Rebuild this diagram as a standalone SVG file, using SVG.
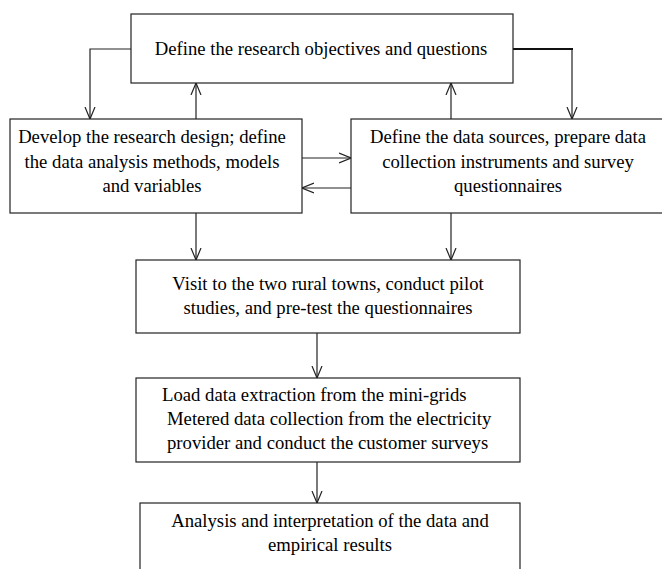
<svg xmlns="http://www.w3.org/2000/svg" width="662" height="569" viewBox="0 0 662 569">
<style>
.box{fill:#fff;stroke:#222;stroke-width:1.2}
.t{font-family:"Liberation Serif","Times New Roman",serif;font-size:18.7px;fill:#000;text-anchor:middle}
.s{text-anchor:start}
.c{fill:none;stroke:#222;stroke-width:1.2}
</style>
<defs>
<marker id="arr" viewBox="0 0 12 12" refX="12" refY="6" markerWidth="12" markerHeight="12" markerUnits="userSpaceOnUse" orient="auto">
<path d="M0,1 L12,6 L0,11" fill="none" stroke="#222" stroke-width="1.2"/>
</marker>
</defs>
<rect width="662" height="569" fill="#fff"/>
<g id="connectors">
<path class="c" d="M131,49 H90 V119" marker-end="url(#arr)"/>
<path class="c" d="M196,119 V83" marker-end="url(#arr)"/>
<path class="c" d="M451,119 V83" marker-end="url(#arr)"/>
<path class="c" d="M572,49 V119" marker-end="url(#arr)"/>
<path d="M513,49 H573" fill="none" stroke="#111" stroke-width="2"/>
<path class="c" d="M302,158 H351" marker-end="url(#arr)"/>
<path class="c" d="M351,188 H302" marker-end="url(#arr)"/>
<path class="c" d="M196,213 V260" marker-end="url(#arr)"/>
<path class="c" d="M451,213 V260" marker-end="url(#arr)"/>
<path class="c" d="M317,333 V378" marker-end="url(#arr)"/>
<path class="c" d="M317,462 V503" marker-end="url(#arr)"/>
</g>
<g id="objectives">
<rect class="box" x="131" y="14" width="382" height="69"/>
<text class="t" x="321" y="55">Define the research objectives and questions</text>
</g>
<g id="design">
<rect class="box" x="10" y="119" width="292" height="94"/>
<text class="t" x="152" y="143">Develop the research design; define</text>
<text class="t" x="152" y="168">the data analysis methods, models</text>
<text class="t" x="152" y="192">and variables</text>
</g>
<g id="sources">
<rect class="box" x="351" y="119" width="320" height="94"/>
<text class="t" x="508" y="143">Define the data sources, prepare data</text>
<text class="t" x="508" y="168">collection instruments and survey</text>
<text class="t" x="508" y="192">questionnaires</text>
</g>
<g id="visit">
<rect class="box" x="136" y="260" width="384" height="73"/>
<text class="t" x="328" y="290">Visit to the two rural towns, conduct pilot</text>
<text class="t" x="328" y="314">studies, and pre-test the questionnaires</text>
</g>
<g id="load">
<rect class="box" x="136" y="378" width="384" height="84"/>
<text class="t s" x="162" y="401">Load data extraction from the mini-grids</text>
<text class="t s" x="167" y="425">Metered data collection from the electricity</text>
<text class="t s" x="167" y="449">provider and conduct the customer surveys</text>
</g>
<g id="analysis">
<rect class="box" x="140" y="503" width="380" height="80"/>
<text class="t" x="330" y="527">Analysis and interpretation of the data and</text>
<text class="t" x="330" y="551">empirical results</text>
</g>
</svg>
